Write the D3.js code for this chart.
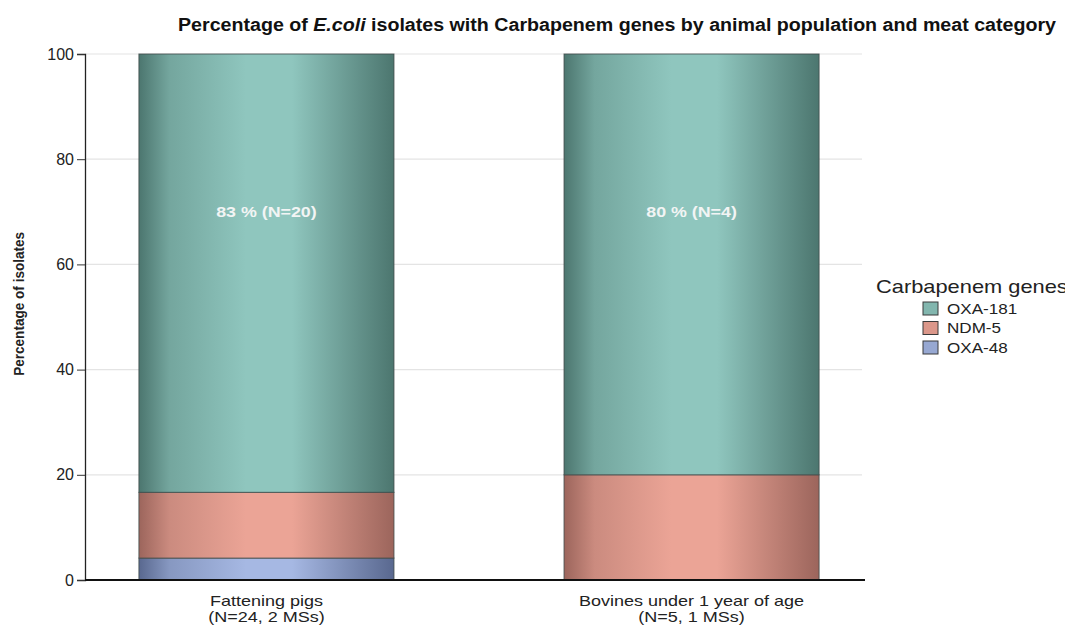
<!DOCTYPE html>
<html>
<head>
<meta charset="utf-8">
<script src="https://cdn.jsdelivr.net/npm/d3@7"></script>
<style>
  body { margin: 0; background: #fff; }
  text { font-family: "Liberation Sans", Arial, sans-serif; }
</style>
</head>
<body>
<div id="chart"></div>
<script>
// data
const categories = ["Fattening pigs", "Bovines under 1 year of age"];
const categorySub = ["(N=24, 2 MSs)", "(N=5, 1 MSs)"];
const totals = [24, 5];
const genes = ["OXA-48", "NDM-5", "OXA-181"];
const oxa48 = [1, 0];
const ndm5 = [3, 1];
const oxa181 = [20, 4];
const yTicks = [0, 20, 40, 60, 80, 100];
const barLabels = ["83 % (N=20)", "80 % (N=4)"];
const labelPos = 70;

const geneColors = {
  "OXA-181": { light: "#8fc6be", dark: "#4c766f" },
  "NDM-5": { light: "#eba496", dark: "#9c655c" },
  "OXA-48": { light: "#a6b8e3", dark: "#59688f" }
};

const width = 1065, height = 630;
const svg = d3.select("#chart").append("svg")
  .attr("width", width).attr("height", height);

// the reference text is a bit wider than the font, stretch it
function stretch(sel, k) {
  sel.each(function() {
    const w = this.getComputedTextLength();
    d3.select(this).attr("textLength", w * k).attr("lengthAdjust", "spacingAndGlyphs");
  });
}

// gradients for the cylinder look
const defs = svg.append("defs");
genes.forEach(g => {
  const c = geneColors[g];
  const grad = defs.append("linearGradient")
    .attr("id", "grad-" + g)
    .attr("x1", "0%").attr("x2", "100%").attr("y1", "0%").attr("y2", "0%");
  [[0, c.dark], [0.12, d3.interpolate(c.dark, c.light)(0.6)], [0.42, c.light],
   [0.6, c.light], [1, c.dark]].forEach(s => {
    grad.append("stop").attr("offset", s[0]).attr("stop-color", s[1]);
  });
});

const x = d3.scaleBand().domain(categories).range([93, 865])
  .paddingInner(0.4).paddingOuter(0.108);
const y = d3.scaleLinear().domain([0, 100]).range([580, 54]);

// gridlines
svg.append("g").selectAll("line").data(yTicks.filter(d => d > 0)).join("line")
  .attr("x1", 85).attr("x2", 862)
  .attr("y1", d => y(d)).attr("y2", d => y(d))
  .attr("stroke", "#e4e4e4").attr("stroke-width", 1.2);

// stacked data
const rows = categories.map((c, i) => ({
  cat: c,
  "OXA-48": oxa48[i] / totals[i] * 100,
  "NDM-5": ndm5[i] / totals[i] * 100,
  "OXA-181": oxa181[i] / totals[i] * 100
}));
const stacked = d3.stack().keys(genes)(rows);

svg.append("g").selectAll("g").data(stacked).join("g")
  .attr("fill", d => "url(#grad-" + d.key + ")")
  .selectAll("rect").data(d => d.filter(s => s[1] - s[0] > 0)).join("rect")
  .attr("x", d => x(d.data.cat))
  .attr("width", x.bandwidth())
  .attr("y", d => y(d[1]))
  .attr("height", d => y(d[0]) - y(d[1]))
  .attr("stroke", "#3e4a48").attr("stroke-width", 1).attr("stroke-opacity", 0.8);

// bar labels
svg.append("g").selectAll("text").data(categories).join("text")
  .attr("x", d => x(d) + x.bandwidth() / 2)
  .attr("y", y(labelPos))
  .attr("dy", "0.35em")
  .attr("text-anchor", "middle")
  .attr("fill", "#f2f4f4")
  .style("font-size", "15.5px").style("font-weight", "bold")
  .text((d, i) => barLabels[i])
  .call(stretch, 1.15);

// y axis
const yAxis = svg.append("g").attr("transform", "translate(85,0)")
  .call(d3.axisLeft(y).tickValues(yTicks).tickSize(8).tickPadding(3));
yAxis.select(".domain").attr("stroke", "#222").attr("stroke-width", 1.3);
yAxis.selectAll(".tick line").attr("stroke", "#333");
yAxis.selectAll(".tick text").style("font-size", "16px").attr("fill", "#222")
  .style("font-family", "'Liberation Sans', Arial, sans-serif");

// x axis line
svg.append("line").attr("x1", 85).attr("x2", 865)
  .attr("y1", y(0)).attr("y2", y(0))
  .attr("stroke", "#111").attr("stroke-width", 2);

// x labels
svg.append("g").selectAll("text").data(categories).join("text")
  .attr("x", d => x(d) + x.bandwidth() / 2).attr("y", 606)
  .attr("text-anchor", "middle").attr("fill", "#222")
  .style("font-size", "15px")
  .text(d => d)
  .call(stretch, 1.2);
svg.append("g").selectAll("text").data(categories).join("text")
  .attr("x", d => x(d) + x.bandwidth() / 2).attr("y", 622)
  .attr("text-anchor", "middle").attr("fill", "#222")
  .style("font-size", "15px")
  .text((d, i) => categorySub[i])
  .call(stretch, 1.2);

// axis title
svg.append("text")
  .attr("transform", "translate(24," + y(52.5) + ") rotate(-90)")
  .attr("text-anchor", "middle")
  .attr("textLength", 144).attr("lengthAdjust", "spacingAndGlyphs")
  .style("font-size", "15px").style("font-weight", "bold").attr("fill", "#222")
  .text("Percentage of isolates");

// chart title
const title = svg.append("text")
  .attr("x", 617).attr("y", 31)
  .attr("text-anchor", "middle")
  .attr("textLength", 878).attr("lengthAdjust", "spacingAndGlyphs")
  .style("font-size", "18px").style("font-weight", "bold").attr("fill", "#111");
title.append("tspan").text("Percentage of ");
title.append("tspan").style("font-style", "italic").text("E.coli");
title.append("tspan").text(" isolates with Carbapenem genes by animal population and meat category");

// legend
const legend = svg.append("g").attr("transform", "translate(876,0)");
legend.append("text").attr("x", 0).attr("y", 293)
  .style("font-size", "18.5px").attr("fill", "#222").text("Carbapenem genes")
  .call(stretch, 1.18);
const legendOrder = ["OXA-181", "NDM-5", "OXA-48"];
const li = legend.selectAll("g.item").data(legendOrder).join("g")
  .attr("class", "item")
  .attr("transform", (d, i) => "translate(47," + (302 + i * 19.5) + ")");
li.append("rect").attr("width", 15).attr("height", 13)
  .attr("fill", d => d3.interpolate(geneColors[d].light, geneColors[d].dark)(0.2))
  .attr("stroke", "#3a3a3a").attr("stroke-width", 1);
li.append("text").attr("x", 24).attr("y", 6.5).attr("dy", "0.35em")
  .style("font-size", "15.5px").attr("fill", "#222").text(d => d)
  .call(stretch, 1.1);
</script>
</body>
</html>
